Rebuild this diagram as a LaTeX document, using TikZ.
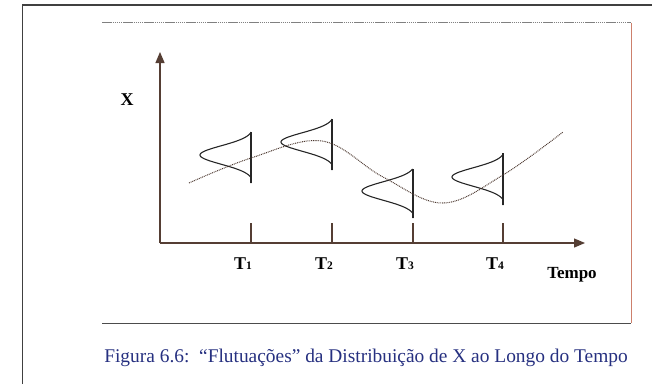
\documentclass[tikz,border=0pt]{standalone}
\usepackage{fontspec}
\setmainfont{Liberation Serif}
\usetikzlibrary{arrows.meta}
\definecolor{axbrown}{RGB}{85,62,52}
\definecolor{capblue}{RGB}{38,48,128}
\definecolor{framered}{RGB}{205,128,108}
\tikzset{
  ax/.style={draw=axbrown,line width=1.3pt,-{Triangle[length=11pt,width=9pt]}},
  tickmark/.style={draw=axbrown,line width=1.1pt},
  dist/.style={draw=black!85,line width=1.1pt},
  trend/.style={draw=axbrown!90!black,line width=1pt,dash pattern=on 0.9pt off 0.9pt},
  tlab/.style={font=\fontsize{18}{18}\selectfont\bfseries,inner sep=0pt,anchor=base east},
}
\newcommand{\tsub}[1]{T\raisebox{-0.5pt}{\fontsize{11.5}{11.5}\selectfont #1}}
% one distribution: x, mean, top, bottom
\newcommand{\distcurve}[4]{%
  \draw[dist] (#1,#3) -- (#1,#4);
  \draw[dist] plot[domain=#3:#4,samples=80,variable=\y]
    ({#1-51*max((exp(-((\y-#2)^2)/170)-0.05)/0.95,0)},\y);
}

\begin{document}
\begin{tikzpicture}[x=1pt,y=-1pt]
  \useasboundingbox (0,0) rectangle (652,384);
  % frames
  \draw[line width=1.3pt,black!75] (22.7,384) -- (22.7,5) -- (652,5);
  \draw[line width=0.8pt,gray,dash pattern=on 1.5pt off 0.6pt] (102,22.7) -- (631,22.7);
  \draw[line width=0.9pt,framered] (631,22.7) -- (631,323);
  \draw[line width=0.9pt,black!70] (102,323) -- (631,323);

  % axes
  \coordinate (o) at (160,243);
  \coordinate (ytip) at (160,52);
  \coordinate (xtip) at (585,243);
  \draw[ax] (o) -- (ytip);
  \draw[ax] (o) -- (xtip);
  \node[font=\fontsize{18}{18}\selectfont\bfseries,inner sep=0pt] (xlab) at (127,100) {X};
  \node[font=\fontsize{17}{17}\selectfont\bfseries,inner sep=0pt,anchor=base] (tempo) at (572,278) {Tempo};

  % ticks
  \draw[tickmark] (251,223) -- (251,243);
  \draw[tickmark] (332,223) -- (332,243);
  \draw[tickmark] (413,223) -- (413,243);
  \draw[tickmark] (503,223) -- (503,243);
  \node[tlab] (t1) at (252,269) {\tsub{1}};
  \node[tlab] (t2) at (333,269) {\tsub{2}};
  \node[tlab] (t3) at (414,269) {\tsub{3}};
  \node[tlab] (t4) at (504,269) {\tsub{4}};

  % distributions
  \distcurve{251}{155}{132}{183}
  \distcurve{332}{142}{119}{170}
  \distcurve{413}{191}{169}{218}
  \distcurve{503}{177}{153}{205}

  % trend
  \draw[trend] plot[smooth,tension=0.6] coordinates {(189,183) (251,158) (322,141) (383,177) (443,203) (503,175) (563,132)};

  % caption
  \node[font=\fontsize{19.4}{19.4}\selectfont,text=capblue,inner sep=0pt,anchor=base] (cap) at (366,362)
    {Figura 6.6:\ \ “Flutuações” da Distribuição de X ao Longo do Tempo};
\end{tikzpicture}
\end{document}
